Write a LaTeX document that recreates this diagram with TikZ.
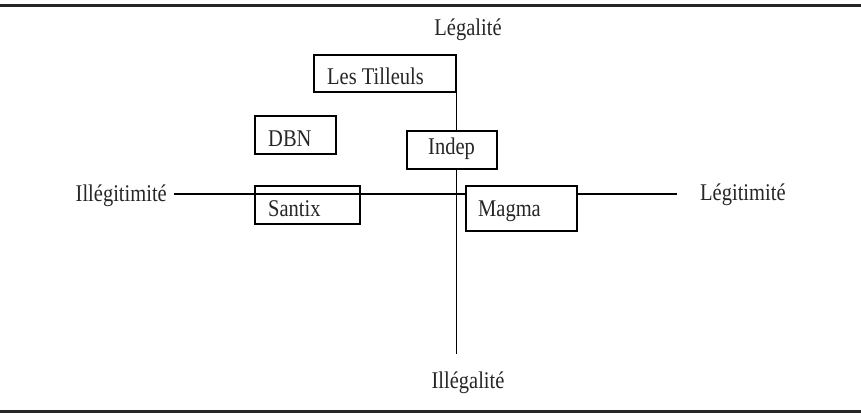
\documentclass[tikz,border=0pt]{standalone}
\usepackage{fontspec}
\setmainfont{Liberation Serif}
\newcommand{\tall}[1]{\scalebox{1}[1.17]{#1}}
\begin{document}
\begin{tikzpicture}[x=1pt,y=-1pt,
  box/.style={draw=black, line width=1.2pt, inner sep=0pt, minimum width=#1},
  axis/.style={draw=black, line width=1.2pt},
  rule/.style={draw=black!85, line width=2.6pt},
  lbl/.style={inner sep=0pt, font=\fontsize{20.5}{24}\selectfont, text=black!85},
  pole/.style={inner sep=0pt, font=\fontsize{20.5}{24}\selectfont, text=black!85}]
\useasboundingbox (0,0) rectangle (861,413);
% rules
\coordinate (tl) at (0,5.5);
\coordinate (tr) at (861,5.5);
\coordinate (bl) at (0,411.5);
\coordinate (br) at (861,411.5);
\draw[rule] (tl) -- (tr);
\draw[rule] (bl) -- (br);
% axes
\coordinate (vt) at (456.5,55);
\coordinate (vb) at (456.5,354);
\coordinate (hl) at (174,194);
\coordinate (hr) at (677,194);
\draw[axis] (vt) -- (vb);
\draw[axis] (hl) -- (hr);
% pole labels
\node[pole, anchor=base] (leg) at (468,35) {\tall{Légalité}};
\node[pole, anchor=base] (illeg) at (468,388) {\tall{Illégalité}};
\node[pole, anchor=base east] (illegit) at (167,201) {\tall{Illégitimité}};
\node[pole, anchor=base west] (legit) at (700,200) {\tall{Légitimité}};
% boxes
\node[box=142pt, minimum height=37pt] (tilleuls) at (385,73.5) {};
\node[lbl, anchor=base west] (tilleulst) at (327,84) {\tall{Les Tilleuls}};
\node[box=81pt, minimum height=38pt] (dbn) at (295.5,135) {};
\node[lbl, anchor=base west] (dbnt) at (268,146) {\tall{DBN}};
\node[box=90pt, minimum height=38pt, fill=white] (indep) at (452,150) {};
\node[lbl, anchor=base west] (indept) at (428,154) {\tall{Indep}};
\node[box=105pt, minimum height=38pt] (santix) at (307.5,205) {};
\node[lbl, anchor=base west] (santixt) at (268,216) {\tall{Santix}};
\node[box=111pt, minimum height=45pt, fill=white] (magma) at (521.5,208.5) {};
\node[lbl, anchor=base west] (magmat) at (478,216) {\tall{Magma}};
\end{tikzpicture}
\end{document}
